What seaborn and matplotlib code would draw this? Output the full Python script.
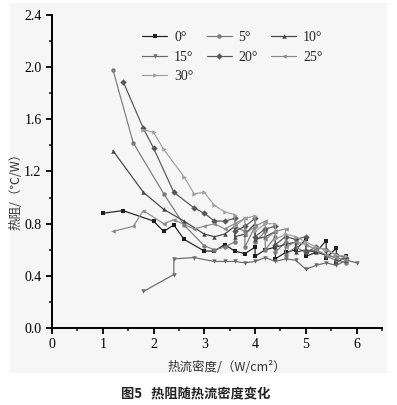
import pandas as pd
import matplotlib
matplotlib.use('Agg')
import matplotlib.pyplot as plt
import seaborn as sns
from matplotlib.patches import Rectangle
from matplotlib.ticker import MultipleLocator

# === DATA ===
angles = ["0°", "5°", "10°", "15°", "20°", "25°", "30°"]

x_0 = [1.0, 1.4, 2.0, 2.2, 2.4, 2.6, 3.0, 3.2, 3.4, 3.6, 3.8, 4.0, 4.0, 4.2, 4.4, 4.4,
       4.6, 4.8, 5.0, 5.0, 5.2, 5.4, 5.4, 5.6, 5.6, 5.8]
y_0 = [0.88, 0.90, 0.82, 0.74, 0.79, 0.68, 0.59, 0.59, 0.64, 0.59, 0.57, 0.62, 0.55, 0.60, 0.62, 0.53,
       0.58, 0.60, 0.68, 0.55, 0.58, 0.67, 0.54, 0.61, 0.50, 0.55]

x_5 = [1.2, 1.6, 2.2, 2.6, 3.0, 3.2, 3.4, 3.6, 3.6, 3.8, 3.8, 4.0, 4.0, 4.2, 4.2, 4.4, 4.4,
       4.6, 4.6, 4.8, 5.0, 5.2, 5.4, 5.6, 5.8]
y_5 = [1.98, 1.42, 1.03, 0.79, 0.63, 0.60, 0.62, 0.66, 0.78, 0.74, 0.62, 0.78, 0.66, 0.74, 0.60, 0.70, 0.58,
       0.66, 0.56, 0.62, 0.58, 0.60, 0.55, 0.52, 0.50]

x_10 = [1.2, 1.8, 2.2, 2.6, 3.0, 3.2, 3.4, 3.6, 3.6, 3.8, 4.0, 4.0, 4.2, 4.4, 4.4, 4.6, 4.8, 4.8,
        5.0, 5.2, 5.4, 5.6, 5.8]
y_10 = [1.36, 1.04, 0.91, 0.82, 0.72, 0.70, 0.72, 0.78, 0.70, 0.72, 0.80, 0.68, 0.70, 0.74, 0.62, 0.64, 0.66, 0.58,
        0.60, 0.58, 0.56, 0.54, 0.52]

x_15 = [1.8, 2.4, 2.4, 2.8, 3.2, 3.4, 3.6, 3.8, 4.0, 4.2, 4.4, 4.6, 4.8, 5.0, 5.2, 5.4, 5.6, 5.8, 6.0]
y_15 = [0.28, 0.41, 0.53, 0.54, 0.51, 0.51, 0.51, 0.50, 0.51, 0.54, 0.51, 0.53, 0.52, 0.45, 0.48, 0.50, 0.48,
        0.52, 0.50]

x_20 = [1.4, 1.8, 2.0, 2.4, 2.8, 3.0, 3.2, 3.4, 3.6, 3.6, 3.8, 4.0, 4.0, 4.2, 4.4, 4.4, 4.6, 4.8,
        5.0, 5.0, 5.2, 5.4, 5.6, 5.8]
y_20 = [1.89, 1.53, 1.38, 1.04, 0.92, 0.88, 0.82, 0.82, 0.84, 0.74, 0.78, 0.84, 0.70, 0.76, 0.78, 0.64, 0.70, 0.68,
        0.70, 0.58, 0.62, 0.60, 0.56, 0.54]

x_25 = [1.2, 1.6, 1.8, 2.2, 2.4, 2.8, 3.0, 3.2, 3.4, 3.6, 3.8, 3.8, 4.0, 4.2, 4.2, 4.4, 4.6, 4.6,
        4.8, 5.0, 5.2, 5.4, 5.6, 5.8]
y_25 = [0.74, 0.78, 0.90, 0.80, 0.83, 0.76, 0.78, 0.80, 0.76, 0.80, 0.84, 0.72, 0.78, 0.82, 0.68, 0.74, 0.76, 0.62,
        0.66, 0.64, 0.60, 0.56, 0.54, 0.52]

x_30 = [1.8, 2.0, 2.2, 2.6, 2.8, 3.0, 3.2, 3.4, 3.6, 3.6, 3.8, 4.0, 4.0, 4.2, 4.4, 4.4, 4.6, 4.8,
        5.0, 5.2, 5.4, 5.6, 5.8]
y_30 = [1.52, 1.50, 1.37, 1.16, 1.03, 1.04, 0.94, 0.89, 0.87, 0.78, 0.84, 0.86, 0.74, 0.80, 0.80, 0.68, 0.72, 0.70,
        0.66, 0.62, 0.60, 0.56, 0.55]

x_ticks = [0, 1, 2, 3, 4, 5, 6]
y_ticks = [0.0, 0.4, 0.8, 1.2, 1.6, 2.0, 2.4]

series_x = [x_0, x_5, x_10, x_15, x_20, x_25, x_30]
series_y = [y_0, y_5, y_10, y_15, y_20, y_25, y_30]

rows = []
for ang, xs, ys in zip(angles, series_x, series_y):
    for i, (xv, yv) in enumerate(zip(xs, ys)):
        rows.append({"angle": ang, "q": xv, "R": yv, "order": i})
df = pd.DataFrame(rows)

# === STYLE ===
sns.set_style("ticks")
plt.rcParams['font.family'] = ['Liberation Serif', 'Noto Sans CJK SC', 'DejaVu Sans']

colors = ["#1e1e1e", "#7a7a7a", "#444444", "#6a6a6a", "#555555", "#8a8a8a", "#a0a0a0"]
markers = ['s', 'o', '^', 'v', 'D', '<', '>']
palette = dict(zip(angles, colors))
marker_map = dict(zip(angles, markers))

fig = plt.figure(figsize=(3.97, 4.05), dpi=100)
# light grey panel behind the chart (figure-level, drawn below the axes)
fig.patches.append(Rectangle((10 / 397, 1 - 373 / 405), 377 / 397, 370 / 405,
                             transform=fig.transFigure, facecolor="#f6f6f6",
                             edgecolor="none", zorder=-10))
ax = fig.add_axes([52 / 397, 77 / 405, 330 / 397, 313 / 405])
ax.set_zorder(2)
ax.patch.set_alpha(0)

sns.lineplot(data=df, x="q", y="R", hue="angle", style="angle", hue_order=angles,
             style_order=angles, palette=palette, markers=marker_map, dashes=False,
             estimator=None, sort=False, units="angle", linewidth=0.85,
             markersize=3.2, markeredgewidth=0, ax=ax)

ax.set_xlim(0, 6.5)
ax.set_ylim(0, 2.4)
ax.set_xticks(x_ticks)
ax.set_yticks(y_ticks)
ax.set_yticklabels([f"{v:.1f}" for v in y_ticks])
ax.xaxis.set_minor_locator(MultipleLocator(0.5))
ax.yaxis.set_minor_locator(MultipleLocator(0.2))
ax.tick_params(which='major', direction='out', length=4, width=1.3, labelsize=10, colors='black')
ax.tick_params(which='minor', direction='out', length=2.5, width=1.2)
ax.spines['top'].set_visible(False)
ax.spines['right'].set_visible(False)
for s in ['left', 'bottom']:
    ax.spines[s].set_linewidth(1.4)
    ax.spines[s].set_color('black')
ax.set_xlabel("")
ax.set_ylabel("")

# legend is filled row by row in the reference: reorder for matplotlib's column filling
handles, labels = ax.get_legend_handles_labels()
order = [0, 3, 6, 1, 4, 2, 5]
ax.legend([handles[i] for i in order], [labels[i] for i in order], ncol=3,
          frameon=False, loc='upper left', bbox_to_anchor=(0.273, 0.948),
          borderaxespad=0, borderpad=0, fontsize=10, handlelength=1.8,
          handletextpad=0.5, columnspacing=0.95, labelspacing=0.45)

fig.text(16 / 397, 1 - 188 / 405, "热阻/（℃/W）", rotation=90, ha='center', va='center',
         fontsize=9, color='#333333', family=['Noto Sans CJK SC', 'DejaVu Sans'])
fig.text(227 / 397, 1 - 367 / 405, "热流密度/（W/cm²）", ha='center', va='center',
         fontsize=9, color='#333333', family=['Noto Sans CJK SC', 'DejaVu Sans'])
fig.text(196 / 397, 1 - 394 / 405, "图5   热阻随热流密度变化", ha='center', va='center',
         fontsize=9.5, fontweight='bold', color='#222222',
         family=['Noto Sans CJK SC', 'DejaVu Sans'])

fig.savefig("out.png", dpi=100, facecolor='white')
